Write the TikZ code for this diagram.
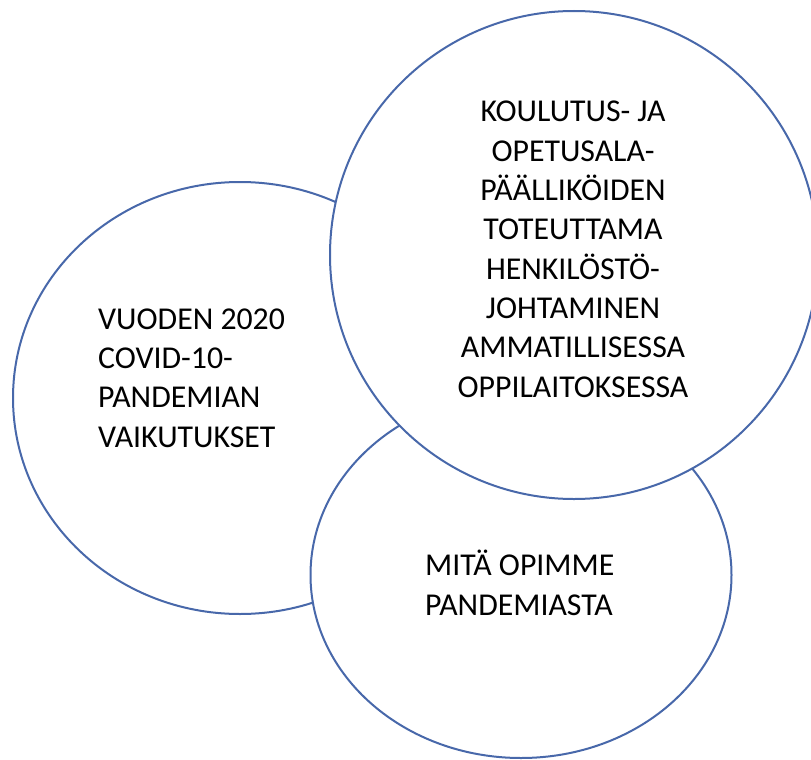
\documentclass[tikz,border=0pt]{standalone}
\usepackage{fontspec}
\setmainfont{Carlito}
\usetikzlibrary{shapes.geometric}

\definecolor{ringblue}{RGB}{72,104,170}

\begin{document}
\begin{tikzpicture}[x=1pt,y=-1pt,
                    bubble/.style={ellipse,draw=ringblue,line width=2pt,fill=white,inner sep=0pt,outer sep=0pt},
                    caption/.style={inner sep=0pt,font=\fontsize{31.8}{39.3}\selectfont}]
  \useasboundingbox (0,0) rectangle (811,760);
  % the three rings, back to front
  \node[bubble,minimum width=454pt,minimum height=432pt] (1) at (240,398) {};
  \node[bubble,minimum width=421pt,minimum height=366pt] (2) at (521,575) {};
  \node[bubble,minimum width=488pt,minimum height=488pt] (3) at (574,255) {};
  % texts (base = last line)
  \node[caption,anchor=base west,align=left] (t1) at (98,447)
    {VUODEN 2020\\COVID-10-\\PANDEMIAN\\VAIKUTUKSET};
  \node[caption,anchor=base west,align=left] (t2) at (425,615)
    {MITÄ OPIMME\\PANDEMIASTA};
  \node[caption,anchor=base,align=center] (t3) at (573,397)
    {KOULUTUS- JA\\OPETUSALA-\\PÄÄLLIKÖIDEN\\TOTEUTTAMA\\HENKILÖSTÖ-\\JOHTAMINEN\\AMMATILLISESSA\\OPPILAITOKSESSA};
\end{tikzpicture}
\end{document}
